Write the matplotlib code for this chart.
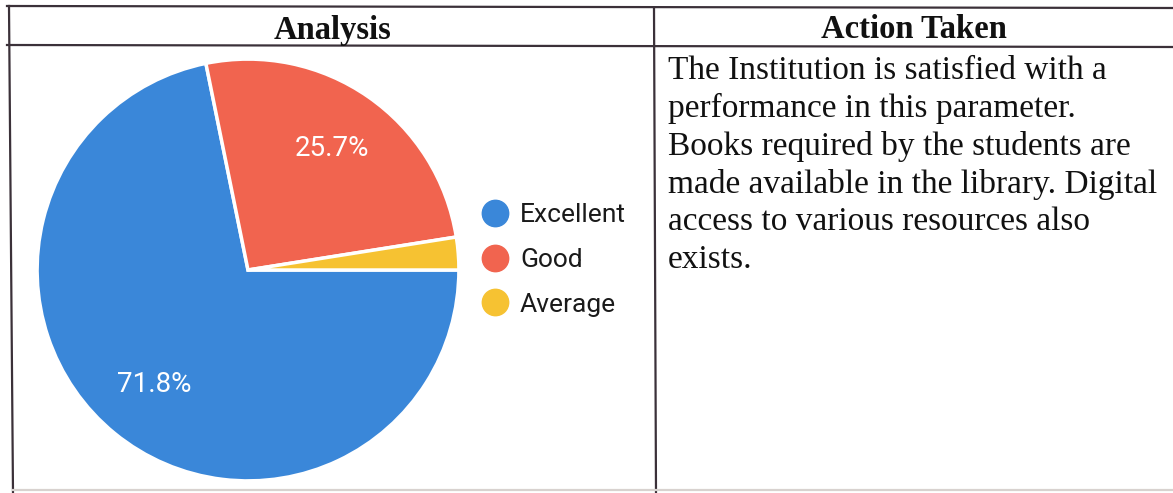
import matplotlib
matplotlib.use("Agg")
import matplotlib.pyplot as plt
from matplotlib.lines import Line2D

# data
labels = ["Excellent", "Good", "Average"]
values = [71.8, 25.7, 2.5]
colors = ["#3a87d9", "#f1644f", "#f6c232"]
headers = ["Analysis", "Action Taken"]
action_lines = ["The Institution is satisfied with a",
                "performance in this parameter.",
                "Books required by the students are",
                "made available in the library. Digital",
                "access to various resources also",
                "exists."]

W, H = 1173, 493
fig = plt.figure(figsize=(W / 100, H / 100), dpi=100)
fig.patch.set_facecolor("white")


def fx(px):
    return px / W


def fy(py):
    return 1 - py / H


# table lines
line_col = "#3b3139"
for x0, y0, x1, y1, c in [(7, 6, W, 8, line_col), (7, 45, W, 47, line_col),
                          (9, 6, 13, H, line_col), (654, 8, 656, H, line_col),
                          (13, 490, W, 490, "#d8d2cf")]:
    fig.add_artist(Line2D([fx(x0), fx(x1)], [fy(y0), fy(y1)], color=c, lw=1.6))

# headers
fig.text(fx(333), fy(30), headers[0], ha="center", va="center",
         family="Liberation Serif", weight="bold", fontsize=23.5, color="#111111")
fig.text(fx(914), fy(30), headers[1], ha="center", va="center",
         family="Liberation Serif", weight="bold", fontsize=23.5, color="#111111")

# action text, one line at a time
for i, line in enumerate(action_lines):
    fig.text(fx(668), fy(71 + 37.8 * i), line, ha="left", va="center",
             family="Liberation Serif", fontsize=24, color="#111111")

# pie
cx, cy, r = 248, 270, 213
ax = fig.add_axes([fx(cx - r), fy(cy + r), (2 * r) / W, (2 * r) / H])
wedges, texts, autotexts = ax.pie(
    values, colors=colors, startangle=0, counterclock=False,
    autopct=lambda p: f"{p:.1f}%" if p > 5 else "", pctdistance=0.7,
    wedgeprops=dict(edgecolor="white", linewidth=2.5),
    textprops=dict(color="white", fontsize=20, family="Roboto"))
ax.set_xlim(-1.01, 1.01)
ax.set_ylim(-1.01, 1.01)
ax.axis("off")

handles = [Line2D([], [], marker="o", linestyle="", markersize=19,
                  markerfacecolor=c, markeredgecolor=c) for c in colors]
fig.legend(handles, labels, loc="center left", bbox_to_anchor=(fx(462), fy(260)),
           frameon=False, prop=dict(family="Roboto", size=19),
           labelspacing=0.78, handletextpad=0.2, handlelength=1.5, borderpad=0,
           labelcolor="#1a1a1a")

fig.savefig("out.png", dpi=100, facecolor="white")
